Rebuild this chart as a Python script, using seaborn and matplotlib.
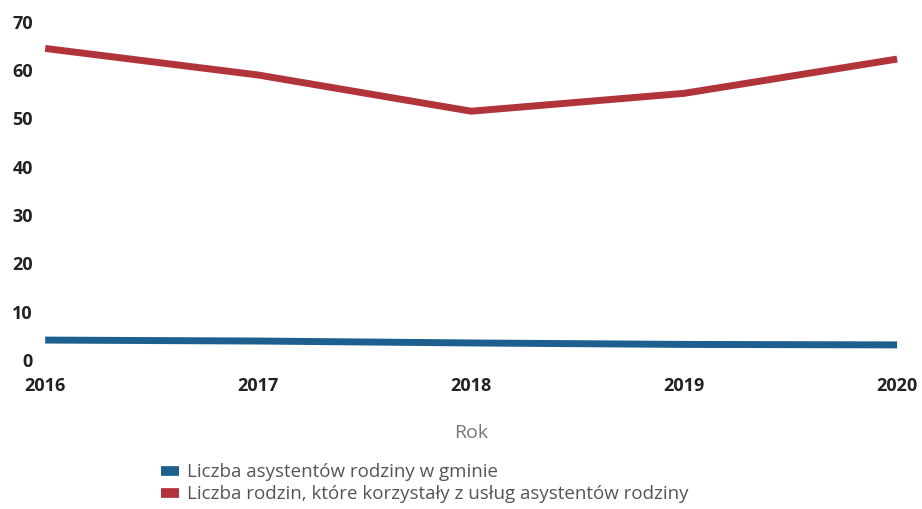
import pandas as pd
import matplotlib.pyplot as plt
import seaborn as sns
from matplotlib.lines import Line2D

years = [2016, 2017, 2018, 2019, 2020]
asystenci = [4.1, 3.9, 3.5, 3.2, 3.1]
rodziny = [64.5, 59.0, 51.5, 55.2, 62.3]

series_names = [
    "Liczba asystentów rodziny w gminie",
    "Liczba rodzin, które korzystały z usług asystentów rodziny",
]
y_ticks = [0, 10, 20, 30, 40, 50, 60, 70]

df = pd.DataFrame({
    "Rok": years * 2,
    "Wartość": asystenci + rodziny,
    "Seria": [series_names[0]] * len(years) + [series_names[1]] * len(years),
})

sns.set_theme(style="white")
plt.rcParams["font.family"] = ["Open Sans", "DejaVu Sans"]

colors = {series_names[0]: "#1d5f8e", series_names[1]: "#b2343b"}

fig = plt.figure(figsize=(9.22, 5.09), dpi=100)
ax = fig.add_axes([0.049, 0.293, 0.924, 0.664])

sns.lineplot(
    data=df,
    x="Rok",
    y="Wartość",
    hue="Seria",
    palette=colors,
    linewidth=5,
    legend=False,
    ax=ax,
)
for line in ax.lines:
    line.set_clip_on(False)
    line.set_solid_capstyle("butt")

ax.set_xlim(years[0], years[-1])
ax.set_ylim(0, 70)
ax.set_xticks(years)
ax.set_xticklabels([str(y) for y in years], fontsize=13, fontweight="bold", color="#222222")
ax.set_yticks(y_ticks)
ax.set_yticklabels([str(v) for v in y_ticks], fontsize=13, fontweight="bold", color="#222222")
ax.tick_params(axis="x", length=0, pad=12)
ax.tick_params(axis="y", length=0, pad=9)

ax.set_xlabel("Rok", fontsize=14, color="#777777", labelpad=21)
ax.set_ylabel("")
sns.despine(ax=ax, left=True, bottom=True)

handles = [
    Line2D([0], [0], color=colors[name], linewidth=7, solid_capstyle="butt")
    for name in series_names
]
fig.legend(
    handles,
    series_names,
    loc="upper left",
    bbox_to_anchor=(0.164, 0.108),
    frameon=False,
    fontsize=13.5,
    labelcolor="#555555",
    handlelength=1.0,
    handletextpad=0.4,
    labelspacing=0.2,
    borderpad=0,
)

fig.savefig("out.png", dpi=100)
